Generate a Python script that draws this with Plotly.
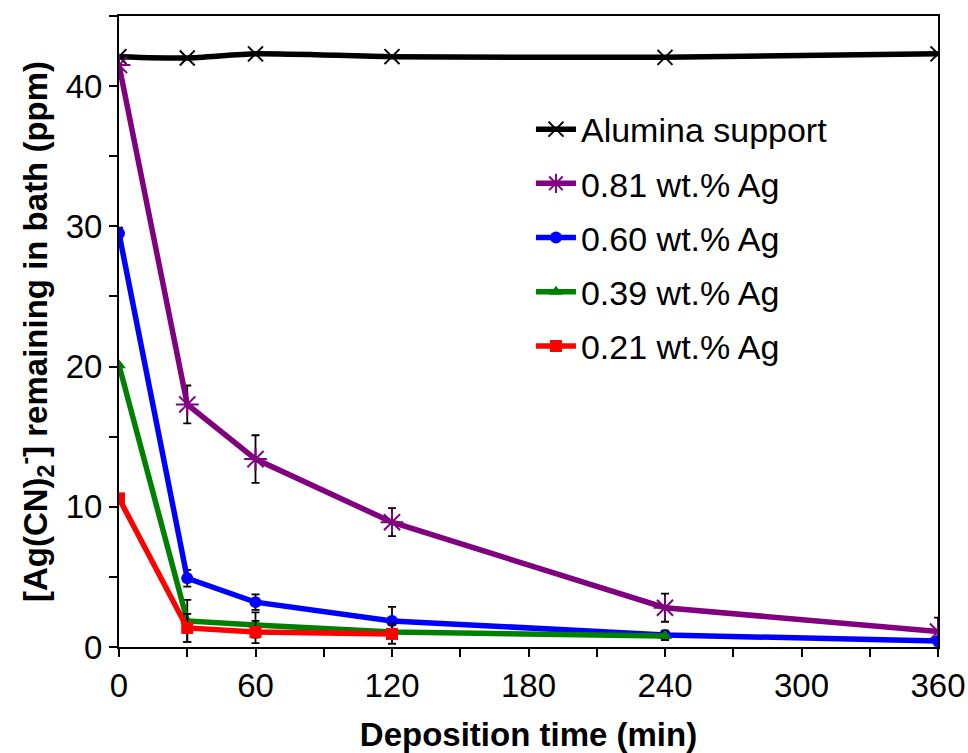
import plotly.graph_objects as go

# Deposition times (min)
time_alumina = [0, 30, 60, 120, 240, 360]
time_081 = [0, 30, 60, 120, 240, 360]
time_060 = [0, 30, 60, 120, 240, 360]
time_039 = [0, 30, 60, 120, 240]
time_021 = [0, 30, 60, 120]

# [Ag(CN)2]- remaining in bath (ppm)
conc_alumina = [42.1, 42.0, 42.3, 42.1, 42.05, 42.3]
conc_081 = [41.5, 17.3, 13.4, 8.9, 2.8, 1.1]
conc_060 = [29.5, 4.9, 3.2, 1.86, 0.86, 0.43]
conc_039 = [20.1, 1.86, 1.57, 1.07, 0.79]
conc_021 = [10.6, 1.36, 1.07, 0.93]

# Standard deviations
err_081 = [0, 1.35, 1.7, 1.0, 1.0, 1.0]
err_060 = [0.4, 0.6, 0.55, 1.0, 0.3, 0]
err_039 = [0, 1.5, 0.9, 0, 0.3]
err_021 = [0, 1.0, 0.8, 0.7]

FONT = "Liberation Sans, Arial, sans-serif"
TICK_SIZE = 33
TITLE_SIZE = 33
LEGEND_SIZE = 34

fig = go.Figure()

fig.add_trace(go.Scatter(
    x=time_alumina, y=conc_alumina, name="Alumina support", legendgroup="a",
    mode="lines+markers", line=dict(color="black", width=5.5, shape="spline", smoothing=0.6),
    marker=dict(symbol="x-thin", size=15, line=dict(color="black", width=2)),
))

def add_series(x, y, err, name, color, symbol, size, group, open_line=False):
    marker = dict(symbol=symbol, size=size, color=color)
    if open_line:
        marker["line"] = dict(color=color, width=2)
    fig.add_trace(go.Scatter(
        x=x, y=y, name=name, mode="lines+markers", legendgroup=group,
        line=dict(color=color, width=5.5),
        marker=marker,
        error_y=dict(type="data", array=err, visible=True,
                     color="black", thickness=1.8, width=4),
    ))

add_series(time_081, conc_081, err_081, "0.81 wt.% Ag", "#800080", "asterisk-open", 19, "b", open_line=True)
add_series(time_060, conc_060, err_060, "0.60 wt.% Ag", "#0000FF", "circle", 12, "c")
add_series(time_039, conc_039, err_039, "0.39 wt.% Ag", "#008000", "triangle-up", 12, "d")
add_series(time_021, conc_021, err_021, "0.21 wt.% Ag", "#FF0000", "square", 12, "e")

fig.update_layout(
    width=968, height=753,
    margin=dict(l=119, r=30, t=16, b=106),
    plot_bgcolor="white", paper_bgcolor="white",
    font=dict(family=FONT, size=TICK_SIZE, color="black"),
    showlegend=True,
    legend=dict(x=0.503, y=0.866, xanchor="left", yanchor="top",
                bgcolor="rgba(0,0,0,0)", font=dict(size=LEGEND_SIZE, family=FONT),
                itemwidth=40, tracegroupgap=7),
)

fig.update_xaxes(
    range=[0, 360], tickvals=[0, 60, 120, 180, 240, 300, 360],
    showline=True, linecolor="black", linewidth=2, mirror=True,
    ticks="outside", ticklen=8, tickwidth=1.5, tickcolor="black",
    minor=dict(dtick=30, ticks="outside", ticklen=8, tickwidth=1.5, tickcolor="black"),
    showgrid=False, zeroline=False, automargin=False,
    tickfont=dict(size=TICK_SIZE, family=FONT),
    title=dict(text="<b>Deposition time (min)</b>", font=dict(size=TITLE_SIZE, family=FONT), standoff=20),
)

fig.update_yaxes(
    range=[0, 45], tickvals=[0, 10, 20, 30, 40],
    showline=True, linecolor="black", linewidth=2, mirror=True,
    ticks="outside", ticklen=8, tickwidth=1.5, tickcolor="black",
    minor=dict(dtick=5, ticks="outside", ticklen=8, tickwidth=1.5, tickcolor="black"),
    showgrid=False, zeroline=False, automargin=False,
    tickfont=dict(size=TICK_SIZE, family=FONT),
    title=dict(text="<b>[Ag(CN)<sub>2</sub><sup>-</sup>] remaining in bath (ppm)</b>",
               font=dict(size=33, family=FONT), standoff=8),
)

fig.write_html("out.html")
